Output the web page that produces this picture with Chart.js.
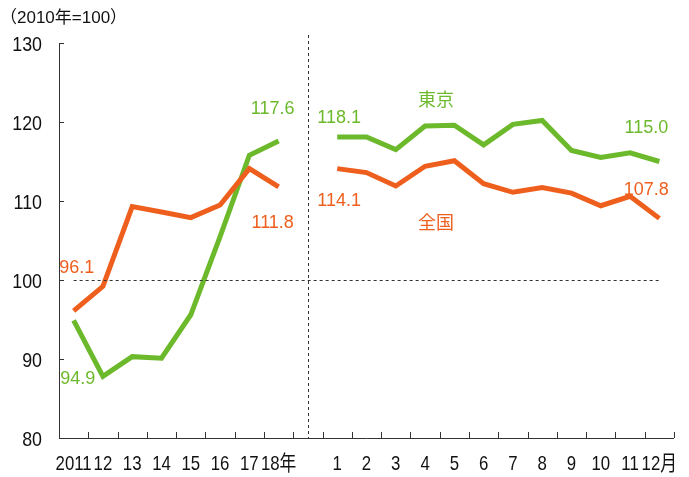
<!DOCTYPE html>
<html>
<head>
<meta charset="utf-8">
<script src="https://cdn.jsdelivr.net/npm/chart.js@4.4.1/dist/chart.umd.min.js"></script>
<style>
html, body { margin: 0; padding: 0; background: #fff; }
#wrap { width: 689px; height: 477px; position: relative; }
</style>
</head>
<body>
<div id="wrap"><canvas id="lineChart"></canvas></div>
<script>
// categories
var years = ["2011", "12", "13", "14", "15", "16", "17", "18年"];
var months = ["1", "2", "3", "4", "5", "6", "7", "8", "9", "10", "11", "12月"];
// series values (2010年=100)
var tokyoYear = [94.9, 87.8, 90.3, 90.1, 95.6, 105.5, 115.8, 117.6];
var tokyoMonth = [118.1, 118.1, 116.5, 119.5, 119.6, 117.1, 119.7, 120.2, 116.4, 115.5, 116.1, 115.0];
var zenkokuYear = [96.1, 99.2, 109.3, 108.6, 107.9, 109.5, 114.1, 111.8];
var zenkokuMonth = [114.1, 113.6, 111.9, 114.4, 115.1, 112.2, 111.1, 111.7, 111.0, 109.4, 110.6, 107.8];
// y ticks
var yTicks = [80, 90, 100, 110, 120, 130];

var FONT = '"Liberation Sans", "Noto Sans CJK JP", sans-serif';
var GREEN = '#6cb92c';
var ORANGE = '#ee5f1e';

var labels = years.concat([""], months);
var tokyo = tokyoYear.concat([null], tokyoMonth);
var zenkoku = zenkokuYear.concat([null], zenkokuMonth);

// text notes: anchored to a data point, offset in px
var notes = [
  {text: "117.6", color: GREEN, data: tokyo, i: 7, dx: -6, dy: -32},
  {text: "111.8", color: ORANGE, data: zenkoku, i: 7, dx: -6, dy: 36},
  {text: "96.1", color: ORANGE, data: zenkoku, i: 0, dx: 3, dy: -43},
  {text: "94.9", color: GREEN, data: tokyo, i: 0, dx: 4, dy: 59},
  {text: "118.1", color: GREEN, data: tokyo, i: 9, dx: 2, dy: -19},
  {text: "114.1", color: ORANGE, data: zenkoku, i: 9, dx: 2, dy: 32},
  {text: "東京", color: GREEN, data: tokyo, i: 12, dx: 11, dy: -25},
  {text: "全国", color: ORANGE, data: zenkoku, i: 12, dx: 11, dy: 58},
  {text: "115.0", color: GREEN, data: tokyo, i: 20, dx: -13, dy: -33},
  {text: "107.8", color: ORANGE, data: zenkoku, i: 20, dx: -13, dy: -28}
];

// condensed text (no narrow font installed)
function narrowText(ctx, txt, px, py, sx, align) {
  ctx.save();
  ctx.translate(px, py);
  ctx.scale(sx, 1);
  ctx.textAlign = align;
  ctx.fillText(txt, 0, 0);
  ctx.restore();
}

var decor = {
  id: 'decor',
  afterDatasetsDraw: function(chart) {
    var ctx = chart.ctx, x = chart.scales.x, y = chart.scales.y, a = chart.chartArea;
    ctx.save();
    // axes
    ctx.strokeStyle = '#333';
    ctx.lineWidth = 1;
    ctx.beginPath();
    ctx.moveTo(a.left + 0.5, a.top);
    ctx.lineTo(a.left + 0.5, a.bottom + 0.5);
    ctx.lineTo(a.right, a.bottom + 0.5);
    ctx.stroke();
    // y tick marks (inward) + labels
    ctx.fillStyle = '#111';
    ctx.textBaseline = 'middle';
    ctx.font = '21px ' + FONT;
    yTicks.forEach(function(v) {
      var py = Math.round(y.getPixelForValue(v)) + 0.5;
      ctx.beginPath();
      ctx.moveTo(a.left, py);
      ctx.lineTo(a.left + 5, py);
      ctx.stroke();
      narrowText(ctx, String(v), a.left - 17, py + 2, 0.85, 'right');
    });
    // x tick marks at category boundaries (inward)
    var step = x.getPixelForValue(1) - x.getPixelForValue(0);
    for (var i = 0; i <= labels.length; i++) {
      var px = Math.round(x.getPixelForValue(i) - step / 2) + 0.5;
      ctx.beginPath();
      ctx.moveTo(px, a.bottom);
      ctx.lineTo(px, a.bottom - 6);
      ctx.stroke();
    }
    // x labels
    ctx.font = '21px ' + FONT;
    labels.forEach(function(l, k) {
      narrowText(ctx, l, x.getPixelForValue(k), a.bottom + 26, 0.8, 'center');
    });
    // dashed reference lines
    ctx.setLineDash([3, 3]);
    var y100 = Math.round(y.getPixelForValue(100)) + 0.5;
    ctx.beginPath();
    ctx.moveTo(x.getPixelForValue(0), y100);
    ctx.lineTo(x.getPixelForValue(labels.length - 1), y100);
    ctx.stroke();
    var gx = Math.round(x.getPixelForValue(years.length)) + 0.5;
    ctx.beginPath();
    ctx.moveTo(gx, a.top - 8);
    ctx.lineTo(gx, a.bottom);
    ctx.stroke();
    ctx.setLineDash([]);
    // notes
    ctx.font = '18px ' + FONT;
    ctx.textAlign = 'center';
    notes.forEach(function(n) {
      ctx.fillStyle = n.color;
      ctx.fillText(n.text, x.getPixelForValue(n.i) + n.dx, y.getPixelForValue(n.data[n.i]) + n.dy);
    });
    // unit
    ctx.fillStyle = '#111';
    ctx.font = '17px ' + FONT;
    ctx.textAlign = 'left';
    ctx.fillText('（2010年=100）', 0, 18);
    ctx.restore();
  }
};

var ctxL = document.getElementById("lineChart").getContext('2d');
var myLineChart = new Chart(ctxL, {
  type: 'line',
  data: {
    labels: labels,
    datasets: [{
      label: "全国",
      data: zenkoku,
      borderColor: ORANGE,
      borderWidth: 5,
      pointRadius: 0,
      tension: 0,
      spanGaps: false
    },
    {
      label: "東京",
      data: tokyo,
      borderColor: GREEN,
      borderWidth: 5,
      pointRadius: 0,
      tension: 0,
      spanGaps: false
    }]
  },
  options: {
    responsive: true,
    maintainAspectRatio: false,
    animation: false,
    layout: { padding: { top: 43, right: 15, left: 0, bottom: 0 } },
    plugins: { legend: { display: false }, tooltip: { enabled: false } },
    scales: {
      x: {
        type: 'category',
        offset: true,
        grid: { display: false, drawTicks: false },
        border: { display: false },
        ticks: { display: false },
        afterFit: function(s) { s.height = 39; }
      },
      y: {
        min: 80,
        max: 130,
        grid: { display: false, drawTicks: false },
        border: { display: false },
        ticks: { display: false, stepSize: 10 },
        afterFit: function(s) { s.width = 59; }
      }
    }
  },
  plugins: [decor]
});
</script>
</body>
</html>
